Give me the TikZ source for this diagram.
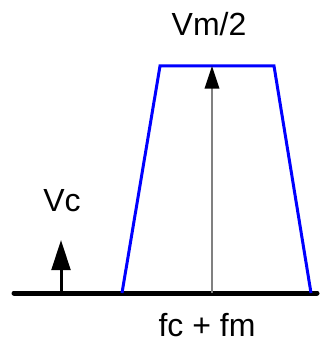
\documentclass[tikz,border=0pt]{standalone}
\usepackage{fontspec}
\setmainfont{Liberation Sans}
\usetikzlibrary{arrows.meta}
\begin{document}
\begin{tikzpicture}[x=0.75pt,y=-0.75pt,
  lbl/.style={anchor=base,inner sep=0pt,font=\fontsize{24}{28}\selectfont},
  axis/.style={line width=3.75pt,line cap=round},
  band/.style={draw=blue,line width=2.25pt,line join=miter},
  cline/.style={draw=gray,line width=1.1pt,-{Triangle[length=17pt,width=11pt,color=black]}},
  varrow/.style={line width=2.25pt,-{Triangle[length=22.5pt,width=14pt]}}]
\useasboundingbox (0,0) rectangle (321,341);
\coordinate (a0) at (14,293);
\coordinate (a1) at (317,293);
\coordinate (bl) at (122,293);
\coordinate (tl) at (160,66);
\coordinate (tr) at (274,66);
\coordinate (br) at (311,293);
\coordinate (cb) at (212,293);
\coordinate (ct) at (212,66);
\coordinate (vb) at (61,293);
\coordinate (vt) at (61,240);
\draw[axis] (a0) -- (a1);
\draw[band] (bl) -- (tl) -- (tr) -- (br);
\draw[cline] (cb) -- (ct);
\draw[varrow] (vb) -- (vt);
\node[lbl] (vm) at (209,36) {Vm/2};
\node[lbl] (vc) at (62,211) {Vc};
\node[lbl] (f) at (207,336) {fc + fm};
\end{tikzpicture}
\end{document}
